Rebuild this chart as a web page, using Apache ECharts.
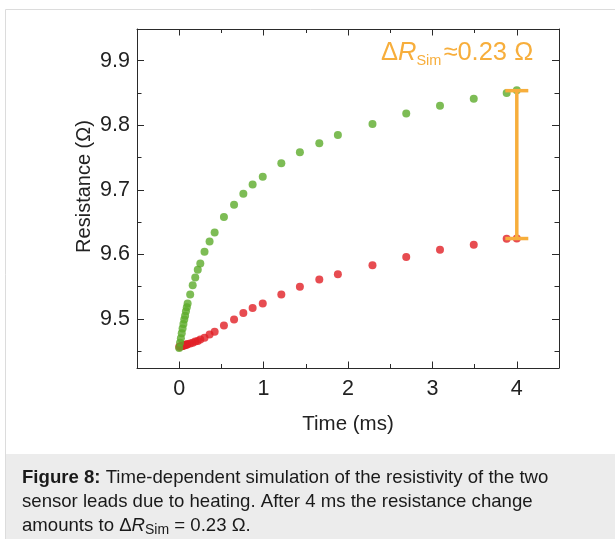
<!DOCTYPE html>
<html>
<head>
<meta charset="utf-8">
<script src="https://cdn.jsdelivr.net/npm/echarts@6/dist/echarts.min.js"></script>
<style>
html,body{margin:0;padding:0;background:#fff;}
#c{width:615px;height:539px;}
</style>
</head>
<body>
<div id="c"></div>
<script>
// ---- data ----
var timeMs = [0, 0.01, 0.02, 0.03, 0.04, 0.05, 0.06, 0.07, 0.08, 0.09, 0.10,
  0.13, 0.16, 0.19, 0.22, 0.25, 0.30, 0.36, 0.42, 0.53, 0.65, 0.76, 0.87, 0.99,
  1.21, 1.43, 1.66, 1.88, 2.29, 2.69, 3.09, 3.49, 3.88, 4.00];
var greenR = [9.455, 9.463, 9.470, 9.478, 9.485, 9.492, 9.499, 9.505, 9.512, 9.518, 9.524,
  9.538, 9.552, 9.564, 9.576, 9.586, 9.604, 9.620, 9.634, 9.658, 9.677, 9.694, 9.708, 9.720,
  9.741, 9.758, 9.772, 9.785, 9.802, 9.818, 9.830, 9.841, 9.850, 9.854];
var redR = [9.457, 9.457, 9.458, 9.458, 9.458, 9.459, 9.459, 9.460, 9.460, 9.460, 9.461,
  9.462, 9.463, 9.465, 9.466, 9.468, 9.471, 9.476, 9.480, 9.490, 9.499, 9.509, 9.517, 9.524,
  9.538, 9.550, 9.561, 9.569, 9.583, 9.596, 9.607, 9.615, 9.624, 9.6245];
var deltaX = [4.0];
var deltaLow = [9.6245];
var deltaHigh = [9.8535];
var xMajorTicks = [0, 1, 2, 3, 4];
var xMinorTicks = [0.5, 1.5, 2.5, 3.5];
var yMajorTicks = [9.5, 9.6, 9.7, 9.8, 9.9];
var yMinorTicks = [9.45, 9.55, 9.65, 9.75, 9.85];
var xRange = [-0.5, 4.5];
var yRange = [9.424, 9.949];

// ---- build ----
var FONT = '"Liberation Sans", Arial, Helvetica, sans-serif';
var AX = '#2a2a2a';
var GREEN = '#5cab2a';
var RED = '#e11f26';
var ORANGE = '#f7ae3c';
var TICKFS = 21.5;
var CAPFS = 18.6;

function pairs(xs, ys) { return xs.map(function (x, i) { return [x, ys[i]]; }); }

function xAx(pos, ticks, len, showLine, showLabel, extra) {
  var a = {
    type: 'value', position: pos, min: xRange[0], max: xRange[1], gridIndex: 0,
    axisLine: { show: showLine, onZero: false, lineStyle: { color: AX, width: 1 } },
    axisTick: { show: true, inside: true, length: len, customValues: ticks, lineStyle: { color: AX, width: 1 } },
    axisLabel: showLabel ? { show: true, customValues: ticks, margin: 10, fontSize: TICKFS, color: '#222', fontFamily: FONT } : { show: false },
    splitLine: { show: false }
  };
  for (var k in extra) a[k] = extra[k];
  return a;
}
function yAx(pos, ticks, len, showLine, showLabel, extra) {
  var a = {
    type: 'value', position: pos, min: yRange[0], max: yRange[1], gridIndex: 0,
    axisLine: { show: showLine, onZero: false, lineStyle: { color: AX, width: 1 } },
    axisTick: { show: true, inside: true, length: len, customValues: ticks, lineStyle: { color: AX, width: 1 } },
    axisLabel: showLabel ? { show: true, customValues: ticks, margin: 7, fontSize: TICKFS, color: '#222', fontFamily: FONT,
      formatter: function (v) { return v.toFixed(1); } } : { show: false },
    splitLine: { show: false }
  };
  for (var k in extra) a[k] = extra[k];
  return a;
}

var chart = echarts.init(document.getElementById('c'), null, { renderer: 'canvas' });
var option = {
  animation: false,
  backgroundColor: '#ffffff',
  textStyle: { fontFamily: FONT },
  grid: { left: 137, top: 29, right: 56, bottom: 171, containLabel: false, outerBoundsMode: 'none' },
  xAxis: [
    xAx('bottom', xMajorTicks, 6.5, true, true, {
      name: 'Time (ms)', nameLocation: 'middle', nameGap: 46,
      nameTextStyle: { fontSize: 20.5, color: '#222', fontFamily: FONT }
    }),
    xAx('bottom', xMinorTicks, 4, false, false, {}),
    xAx('top', xMajorTicks, 6.5, true, false, {}),
    xAx('top', xMinorTicks, 4, false, false, {})
  ],
  yAxis: [
    yAx('left', yMajorTicks, 7, true, true, {
      name: 'Resistance (Ω)', nameLocation: 'middle', nameGap: 43, nameRotate: 90,
      nameMoveOverlap: false,
      nameTextStyle: { fontSize: 20, color: '#222', fontFamily: FONT, padding: [0, 0, 0, 24] }
    }),
    yAx('left', yMinorTicks, 4.5, false, false, {}),
    yAx('right', yMajorTicks, 7, true, false, {}),
    yAx('right', yMinorTicks, 4.5, false, false, {})
  ],
  series: [
    {
      name: 'Lead 2', type: 'scatter', xAxisIndex: 0, yAxisIndex: 0,
      symbol: 'circle', symbolSize: 8, itemStyle: { color: RED },
      data: pairs(timeMs, redR), z: 2
    },
    {
      name: 'Lead 1', type: 'scatter', xAxisIndex: 0, yAxisIndex: 0,
      symbol: 'circle', symbolSize: 8, itemStyle: { color: GREEN },
      data: pairs(timeMs, greenR), z: 3
    },
    {
      name: 'ΔR', type: 'custom', xAxisIndex: 0, yAxisIndex: 0, z: 5,
      data: deltaX.map(function (x, i) { return [x, deltaLow[i], deltaHigh[i]]; }),
      encode: { x: 0, y: [1, 2] },
      renderItem: function (params, api) {
        var lo = api.coord([api.value(0), api.value(1)]);
        var hi = api.coord([api.value(0), api.value(2)]);
        var st = { stroke: ORANGE, lineWidth: 3.5 };
        return {
          type: 'group',
          children: [
            { type: 'line', shape: { x1: lo[0], y1: lo[1], x2: hi[0], y2: hi[1] }, style: st },
            { type: 'line', shape: { x1: lo[0] - 11.5, y1: lo[1], x2: lo[0] + 11.5, y2: lo[1] }, style: st },
            { type: 'line', shape: { x1: hi[0] - 11.5, y1: hi[1], x2: hi[0] + 11.5, y2: hi[1] }, style: st }
          ]
        };
      }
    }
  ],
  graphic: [
    { type: 'rect', z: -10, shape: { x: 5.5, y: 9.5, width: 700, height: 600 },
      style: { fill: '#ffffff', stroke: '#dcdcdc', lineWidth: 1 }, silent: true },
    { type: 'rect', z: -9, shape: { x: 6, y: 454, width: 609, height: 85 },
      style: { fill: '#ececec' }, silent: true },
    { type: 'text', z: 10, x: 381, y: 53,
      style: {
        text: '{d|Δ}{r|R}{s|Sim}{g|≈0.23 Ω}',
        align: 'left', verticalAlign: 'middle',
        rich: {
          d: { fontSize: 25.5, fill: ORANGE, fontFamily: FONT, lineHeight: 30 },
          g: { fontSize: 25.5, fill: ORANGE, fontFamily: FONT, lineHeight: 30, padding: [0, 0, 0, 2] },
          r: { fontSize: 25.5, fill: ORANGE, fontFamily: FONT, fontStyle: 'italic', lineHeight: 30 },
          s: { fontSize: 14.5, fill: ORANGE, fontFamily: FONT, lineHeight: 10, verticalAlign: 'bottom' }
        }
      }
    },
    { type: 'text', z: 10, x: 22, y: 478,
      style: {
        text: '{b|Figure 8:} Time-dependent simulation of the resistivity of the two',
        align: 'left', verticalAlign: 'middle',
        font: CAPFS + 'px ' + FONT, fill: '#1a1a1a',
        rich: { b: { fontWeight: 'bold', fontSize: CAPFS, fontFamily: FONT, fill: '#1a1a1a' } }
      }
    },
    { type: 'text', z: 10, x: 22, y: 502,
      style: {
        text: 'sensor leads due to heating. After 4 ms the resistance change',
        align: 'left', verticalAlign: 'middle',
        font: CAPFS + 'px ' + FONT, fill: '#1a1a1a'
      }
    },
    { type: 'text', z: 10, x: 22, y: 526,
      style: {
        text: '{n|amounts to Δ}{i|R}{s|Sim}{n| = 0.23 Ω.}',
        align: 'left', verticalAlign: 'middle',
        rich: {
          n: { fontSize: CAPFS, fontFamily: FONT, fill: '#1a1a1a', lineHeight: 22 },
          i: { fontSize: CAPFS, fontFamily: FONT, fill: '#1a1a1a', fontStyle: 'italic', lineHeight: 22 },
          s: { fontSize: 14, fontFamily: FONT, fill: '#1a1a1a', lineHeight: 8, verticalAlign: 'bottom' }
        }
      }
    }
  ]
};
chart.setOption(option);
</script>
</body>
</html>
